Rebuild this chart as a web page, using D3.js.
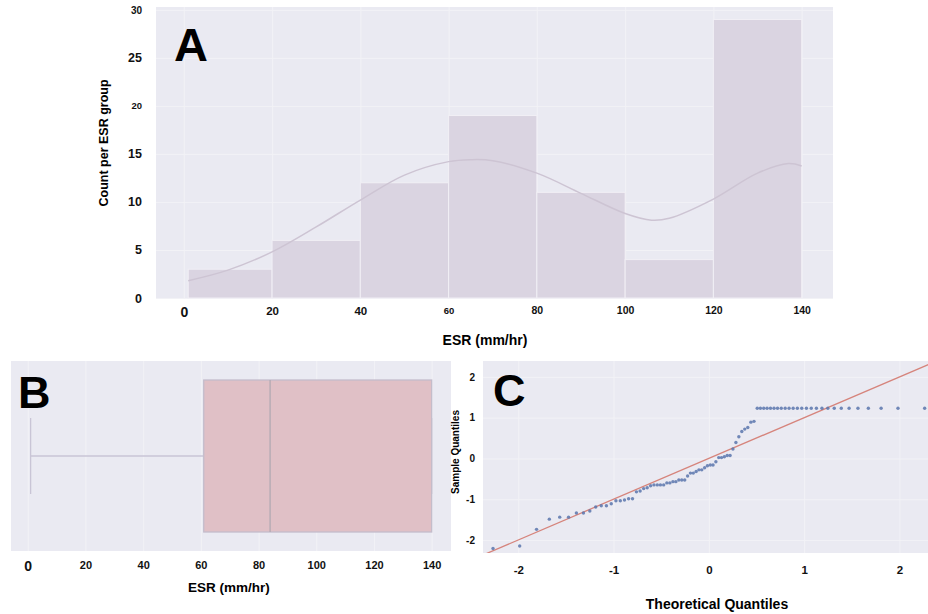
<!DOCTYPE html>
<html>
<head>
<meta charset="utf-8">
<script src="https://cdn.jsdelivr.net/npm/d3@7"></script>
<style>
  body { margin: 0; background: #fff; }
  svg { display: block; font-family: "Liberation Sans", Arial, sans-serif; }
  .tick text { font-weight: bold; fill: #111; }
</style>
</head>
<body>
<svg id="chart" width="928" height="614"></svg>
<script>
// --- A: histogram of ESR ---
const binEdges = [1, 20, 40, 60, 80, 100, 120, 140];
const binCounts = [3, 6, 12, 19, 11, 4, 29];
// density curve (in count units)
const kdeX = [1, 10, 20, 30, 40, 50, 60, 65, 70, 80, 90, 100, 106, 110, 120, 130, 137, 140];
const kdeY = [1.8, 2.9, 4.8, 7.4, 10.2, 12.8, 14.2, 14.4, 14.3, 13.0, 10.9, 8.8, 8.1, 8.3, 10.3, 13.0, 14.0, 13.75];
const esrTicks = [0, 20, 40, 60, 80, 100, 120, 140];
const countTicks = [0, 5, 10, 15, 20, 25, 30];

// --- B: box plot (min, q1, median, q3, max) ---
const boxSummary = [1, 61, 84, 140, 140];

// --- C: normal Q-Q plot ---
const theoQ = [
  -2.265, -1.985, -1.808, -1.674, -1.565, -1.472, -1.390, -1.316, -1.249, -1.187,
  -1.129, -1.075, -1.024, -0.975, -0.929, -0.885, -0.842, -0.801, -0.760, -0.721,
  -0.684, -0.647, -0.611, -0.576, -0.541, -0.508, -0.474, -0.441, -0.409, -0.377,
  -0.346, -0.315, -0.284, -0.253, -0.223, -0.193, -0.163, -0.133, -0.104, -0.074,
  -0.044, -0.015, 0.015, 0.044, 0.074, 0.104, 0.133, 0.163, 0.193, 0.223,
  0.253, 0.284, 0.315, 0.346, 0.377, 0.409, 0.441, 0.474, 0.508, 0.541,
  0.576, 0.611, 0.647, 0.684, 0.721, 0.760, 0.801, 0.842, 0.885, 0.929,
  0.975, 1.024, 1.075, 1.129, 1.187, 1.249, 1.316, 1.390, 1.472, 1.565,
  1.674, 1.808, 1.985, 2.265
];
const sampleQ = [
  -2.21, -2.15, -1.74, -1.49, -1.44, -1.44, -1.34, -1.34, -1.29, -1.19,
  -1.16, -1.16, -1.11, -1.04, -1.04, -1.02, -0.99, -0.99, -0.82, -0.80,
  -0.74, -0.72, -0.67, -0.65, -0.65, -0.65, -0.65, -0.60, -0.60, -0.57,
  -0.57, -0.53, -0.53, -0.53, -0.43, -0.36, -0.36, -0.32, -0.28, -0.28,
  -0.23, -0.18, -0.16, -0.16, -0.08, 0.02, 0.02, 0.04, 0.07, 0.07,
  0.23, 0.39, 0.53, 0.66, 0.72, 0.76, 0.89, 0.91, 1.23, 1.23,
  1.23, 1.23, 1.23, 1.23, 1.23, 1.23, 1.23, 1.23, 1.23, 1.23,
  1.23, 1.23, 1.23, 1.23, 1.23, 1.23, 1.23, 1.23, 1.23, 1.23,
  1.23, 1.23, 1.23, 1.23
];
const qqLine = [-2.5, 2.5];
const qqTicks = [-2, -1, 0, 1, 2];

const svg = d3.select("#chart");
const bg = "#eaeaf2";
const grid = "#f2f2f6";

// per-label font sizes (the source figure mixes sizes)
const sizeA_x = {0: 14, 60: 9.5, 80: 10.5, 100: 10.5, 120: 10.5, 140: 10.5};
const sizeA_y = {30: 10, 20: 9.5};

// ===================== Panel A =====================
const xA = d3.scaleLinear().domain([-6.3, 147.1]).range([156, 833]);
const yA = d3.scaleLinear().domain([0, 30.3]).range([298, 7]);
const gA = svg.append("g");

gA.append("rect")
  .attr("x", 156).attr("y", 7)
  .attr("width", 833 - 156).attr("height", 298 - 7)
  .attr("fill", bg);

// grid
gA.append("g")
  .attr("transform", "translate(0,298)")
  .call(d3.axisBottom(xA).tickValues(esrTicks).tickSize(-291).tickFormat(""))
  .call(g => g.select(".domain").remove())
  .call(g => g.selectAll("line").attr("stroke", grid).attr("stroke-width", 1));
gA.append("g")
  .attr("transform", "translate(156,0)")
  .call(d3.axisLeft(yA).tickValues(countTicks).tickSize(-677).tickFormat(""))
  .call(g => g.select(".domain").remove())
  .call(g => g.selectAll("line").attr("stroke", grid).attr("stroke-width", 1));

// bars
const bins = binCounts.map((c, i) => ({x0: binEdges[i], x1: binEdges[i + 1], n: c}));
gA.selectAll("rect.bar")
  .data(bins)
  .enter().append("rect")
  .attr("class", "bar")
  .attr("x", d => xA(d.x0))
  .attr("width", d => xA(d.x1) - xA(d.x0))
  .attr("y", d => yA(d.n))
  .attr("height", d => yA(0) - yA(d.n))
  .attr("fill", "#dad4e1")
  .attr("stroke", "#f1eff5")
  .attr("stroke-width", 1);

// density curve
const kdeLine = d3.line()
  .x(d => xA(d[0]))
  .y(d => yA(d[1]))
  .curve(d3.curveCatmullRom);
gA.append("path")
  .attr("d", kdeLine(kdeX.map((x, i) => [x, kdeY[i]])))
  .attr("fill", "none")
  .attr("stroke", "#cdc4d3")
  .attr("stroke-width", 1.5);

// axes labels
gA.append("g")
  .attr("transform", "translate(0,298)")
  .call(d3.axisBottom(xA).tickValues(esrTicks).tickSize(0).tickPadding(9))
  .call(g => g.select(".domain").remove())
  .call(g => g.selectAll("text").style("font-size", d => (sizeA_x[d] || 11.5) + "px"));
gA.append("g")
  .attr("transform", "translate(156,0)")
  .call(d3.axisLeft(yA).tickValues(countTicks).tickSize(0).tickPadding(14))
  .call(g => g.select(".domain").remove())
  .call(g => g.selectAll("text").style("font-size", d => (sizeA_y[d] || 12.5) + "px"));

gA.append("text")
  .attr("transform", "translate(108,143) rotate(-90)")
  .attr("text-anchor", "middle")
  .style("font-size", "12.5px").style("font-weight", "bold")
  .text("Count per ESR group");
gA.append("text")
  .attr("x", 485).attr("y", 345)
  .attr("text-anchor", "middle")
  .style("font-size", "14px").style("font-weight", "bold")
  .text("ESR (mm/hr)");
gA.append("text")
  .attr("x", 174).attr("y", 61)
  .style("font-size", "47px").style("font-weight", "bold")
  .text("A");

// ===================== Panel B =====================
const xB = d3.scaleLinear().domain([-5.8, 146.7]).range([11, 451]);
const yB = d3.scaleLinear().domain([-0.5, 0.5]).range([551, 361]);
const gB = svg.append("g");

gB.append("rect")
  .attr("x", 11).attr("y", 361)
  .attr("width", 451 - 11).attr("height", 551 - 361)
  .attr("fill", bg);
gB.append("g")
  .attr("transform", "translate(0,551)")
  .call(d3.axisBottom(xB).tickValues(esrTicks).tickSize(-190).tickFormat(""))
  .call(g => g.select(".domain").remove())
  .call(g => g.selectAll("line").attr("stroke", grid).attr("stroke-width", 1));

const [bMin, bQ1, bMed, bQ3, bMax] = boxSummary;
// whisker + cap
gB.append("line")
  .attr("x1", xB(bMin)).attr("x2", xB(bQ1))
  .attr("y1", yB(0)).attr("y2", yB(0))
  .attr("stroke", "#c9c5d6").attr("stroke-width", 1.3);
gB.append("line")
  .attr("x1", xB(bMin)).attr("x2", xB(bMin))
  .attr("y1", yB(-0.2)).attr("y2", yB(0.2))
  .attr("stroke", "#c9c5d6").attr("stroke-width", 1.3);
gB.append("line")
  .attr("x1", xB(bMax)).attr("x2", xB(bMax))
  .attr("y1", yB(-0.2)).attr("y2", yB(0.2))
  .attr("stroke", "#c9c5d6").attr("stroke-width", 1.3);
// box
gB.append("rect")
  .attr("x", xB(bQ1)).attr("width", xB(bQ3) - xB(bQ1))
  .attr("y", yB(0.4)).attr("height", yB(-0.4) - yB(0.4))
  .attr("fill", "#e0c0c6")
  .attr("stroke", "#c4bccb").attr("stroke-width", 1.3);
gB.append("line")
  .attr("x1", xB(bMed)).attr("x2", xB(bMed))
  .attr("y1", yB(0.4)).attr("y2", yB(-0.4))
  .attr("stroke", "#b3a9b3").attr("stroke-width", 1.3);

gB.append("g")
  .attr("transform", "translate(0,551)")
  .call(d3.axisBottom(xB).tickValues(esrTicks).tickSize(0).tickPadding(10))
  .call(g => g.select(".domain").remove())
  .call(g => g.selectAll("text").style("font-size", d => (d === 0 ? 14 : 11) + "px"));
gB.append("text")
  .attr("x", 229).attr("y", 592)
  .attr("text-anchor", "middle")
  .style("font-size", "13.5px").style("font-weight", "bold")
  .text("ESR (mm/hr)");
gB.append("text")
  .attr("x", 18).attr("y", 408)
  .style("font-size", "45px").style("font-weight", "bold")
  .text("B");

// ===================== Panel C =====================
const xC = d3.scaleLinear().domain([-2.37, 2.30]).range([483, 928]);
const yC = d3.scaleLinear().domain([-2.32, 2.39]).range([553, 361]);
const gC = svg.append("g");
const intFmt = d => String(d);

svg.append("clipPath").attr("id", "clipC")
  .append("rect").attr("x", 483).attr("y", 361).attr("width", 928 - 483).attr("height", 553 - 361);

gC.append("rect")
  .attr("x", 483).attr("y", 361)
  .attr("width", 928 - 483).attr("height", 553 - 361)
  .attr("fill", bg);
gC.append("g")
  .attr("transform", "translate(0,553)")
  .call(d3.axisBottom(xC).tickValues(qqTicks).tickSize(-192).tickFormat(""))
  .call(g => g.select(".domain").remove())
  .call(g => g.selectAll("line").attr("stroke", grid).attr("stroke-width", 1));
gC.append("g")
  .attr("transform", "translate(483,0)")
  .call(d3.axisLeft(yC).tickValues(qqTicks).tickSize(-445).tickFormat(""))
  .call(g => g.select(".domain").remove())
  .call(g => g.selectAll("line").attr("stroke", grid).attr("stroke-width", 1));

gC.append("line")
  .attr("clip-path", "url(#clipC)")
  .attr("x1", xC(qqLine[0])).attr("y1", yC(qqLine[0]))
  .attr("x2", xC(qqLine[1])).attr("y2", yC(qqLine[1]))
  .attr("stroke", "#d6847c").attr("stroke-width", 1.3);

gC.selectAll("circle")
  .data(theoQ.map((t, i) => [t, sampleQ[i]]))
  .enter().append("circle")
  .attr("cx", d => xC(d[0]))
  .attr("cy", d => yC(d[1]))
  .attr("r", 1.7)
  .attr("fill", "#5a76ad")
  .attr("opacity", 0.85);

gC.append("g")
  .attr("transform", "translate(0,553)")
  .call(d3.axisBottom(xC).tickValues(qqTicks).tickFormat(intFmt).tickSize(0).tickPadding(13))
  .call(g => g.select(".domain").remove())
  .call(g => g.selectAll("text").style("font-size", "11.5px"));
gC.append("g")
  .attr("transform", "translate(483,0)")
  .call(d3.axisLeft(yC).tickValues(qqTicks).tickFormat(intFmt).tickSize(0).tickPadding(8))
  .call(g => g.select(".domain").remove())
  .call(g => g.selectAll("text").style("font-size", "10px"));

gC.append("text")
  .attr("transform", "translate(459,452) rotate(-90)")
  .attr("text-anchor", "middle")
  .style("font-size", "10px").style("font-weight", "bold")
  .text("Sample Quantiles");
gC.append("text")
  .attr("x", 717).attr("y", 609)
  .attr("text-anchor", "middle")
  .style("font-size", "14px").style("font-weight", "bold")
  .text("Theoretical Quantiles");
gC.append("text")
  .attr("x", 493).attr("y", 406)
  .style("font-size", "45px").style("font-weight", "bold")
  .text("C");
</script>
</body>
</html>
